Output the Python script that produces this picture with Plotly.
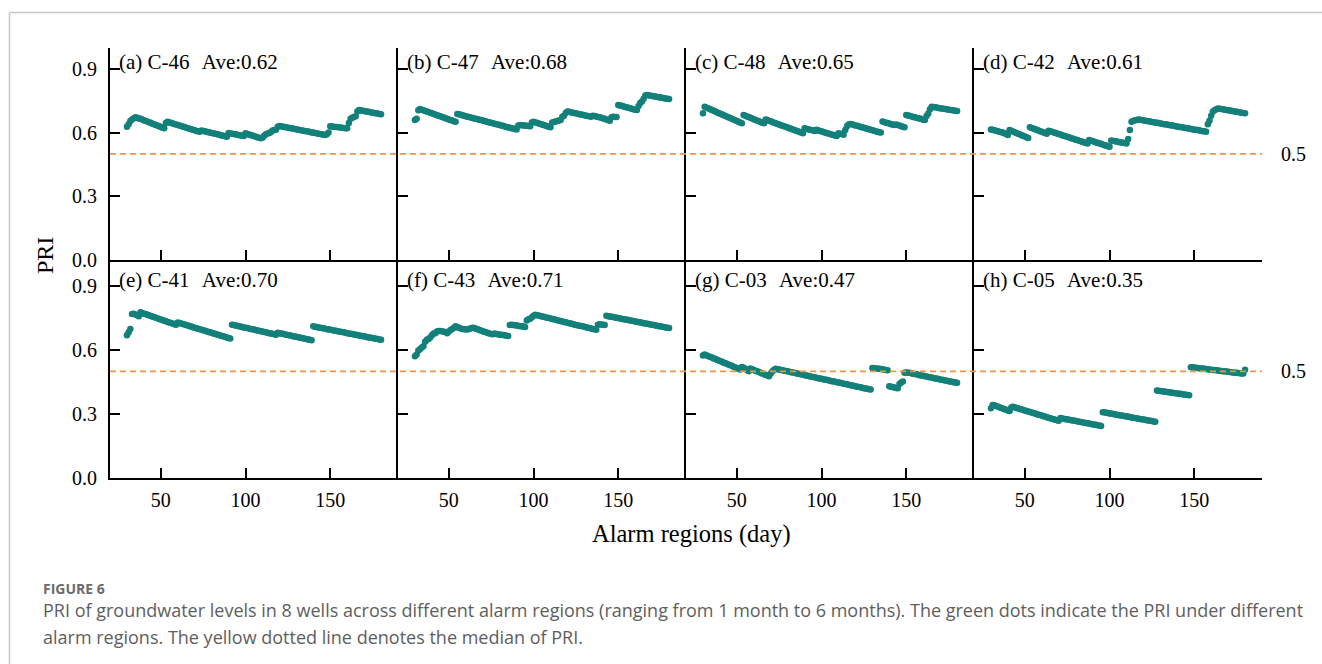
import plotly.graph_objects as go

# Alarm region length in days
days = list(range(30, 181))

# PRI per day (30..180) for each well
pri_c46 = [
    .628, .640, .655, .662, .668, .672, .670, .667, .665, .662,
    .658, .655, .652, .649, .646, .642, .639, .636, .633, .630,
    .626, .623, .620, .645, .651, .648, .646, .643, .641, .638,
    .636, .633, .631, .628, .626, .623, .621, .618, .616, .613,
    .611, .608, .606, .604, .610, .608, .606, .604, .602, .600,
    .598, .597, .595, .593, .591, .589, .587, .585, .583, .581,
    .598, .596, .595, .593, .592, .590, .589, .587, .586, .584,
    .597, .594, .591, .589, .586, .584, .581, .578, .576, .573,
    .576, .585, .592, .596, .598, .603, .610, .612, .614, .628,
    .631, .630, .628, .627, .625, .623, .622, .620, .619, .617,
    .616, .614, .612, .611, .609, .608, .606, .605, .603, .601,
    .600, .598, .597, .595, .594, .592, .590, .589, .592, .600,
    .630, .629, .628, .627, .626, .625, .624, .623, .622, .621,
    .620, .645, .665, .670, .674, .677, .700, .706, .705, .703,
    .702, .700, .699, .697, .696, .694, .693, .691, .690, .688,
    .687,
]
pri_c47 = [
    .660, .665, .705, .711, .708, .705, .702, .700, .697, .694,
    .691, .688, .685, .682, .680, .677, .674, .671, .668, .665,
    .662, .660, .657, .654, .651, .688, .686, .684, .682, .680,
    .677, .675, .673, .671, .669, .667, .665, .663, .661, .659,
    .657, .655, .652, .650, .648, .646, .644, .642, .640, .638,
    .636, .634, .632, .629, .627, .625, .623, .621, .619, .617,
    .615, .633, .636, .635, .634, .633, .632, .631, .630, .648,
    .651, .648, .646, .643, .641, .638, .636, .633, .630, .628,
    .625, .648, .650, .652, .655, .657, .659, .675, .680, .692,
    .699, .698, .696, .694, .692, .691, .689, .687, .685, .684,
    .682, .680, .678, .677, .675, .680, .678, .676, .674, .672,
    .670, .667, .665, .662, .659, .656, .672, .675, .674, .673,
    .730, .728, .726, .724, .721, .719, .717, .715, .712, .710,
    .708, .706, .725, .740, .746, .760, .775, .777, .776, .774,
    .773, .771, .770, .768, .767, .765, .764, .762, .761, .759,
    .758,
]
pri_c48 = [
    .691, .722, .718, .715, .711, .708, .704, .701, .697, .693,
    .690, .686, .683, .679, .676, .672, .669, .665, .662, .658,
    .655, .651, .648, .644, .683, .680, .676, .673, .670, .667,
    .663, .660, .657, .654, .650, .647, .644, .662, .659, .656,
    .653, .650, .647, .644, .641, .638, .635, .632, .630, .627,
    .624, .621, .618, .615, .612, .609, .606, .603, .600, .597,
    .620, .618, .616, .614, .612, .610, .608, .613, .611, .608,
    .606, .603, .601, .598, .596, .594, .591, .589, .586, .584,
    .597, .595, .593, .590, .612, .630, .638, .641, .639, .636,
    .634, .632, .630, .627, .625, .623, .620, .618, .616, .614,
    .611, .609, .607, .604, .602, .600, .652, .650, .647, .645,
    .643, .640, .638, .636, .638, .636, .633, .630, .628, .625,
    .683, .681, .679, .677, .674, .672, .670, .668, .666, .664,
    .661, .659, .678, .690, .710, .722, .721, .719, .718, .716,
    .715, .714, .712, .711, .710, .708, .707, .706, .704, .703,
    .702,
]
pri_c42 = [
    .615, .613, .611, .609, .607, .604, .602, .600, .597, .593,
    .589, .612, .609, .605, .602, .598, .595, .592, .588, .585,
    .582, .578, .575, .625, .622, .619, .616, .613, .610, .607,
    .604, .601, .598, .595, .609, .606, .604, .601, .599, .596,
    .593, .591, .588, .585, .583, .580, .578, .575, .572, .570,
    .567, .565, .562, .559, .557, .554, .552, .549, .565, .562,
    .560, .557, .554, .552, .549, .547, .544, .541, .539, .536,
    .534, .563, .561, .560, .558, .557, .555, .554, .552, .551,
    .549, .570, .612, .651, .655, .658, .660, .662, .661, .659,
    .658, .656, .655, .653, .652, .650, .649, .648, .646, .645,
    .643, .642, .640, .639, .638, .636, .635, .633, .632, .630,
    .629, .627, .626, .625, .623, .622, .620, .619, .617, .616,
    .614, .613, .612, .610, .609, .607, .606, .604, .640, .656,
    .680, .699, .705, .710, .714, .713, .711, .710, .708, .707,
    .705, .704, .703, .701, .700, .698, .697, .695, .694, .692,
    .691,
]
pri_c41 = [
    .670, .684, .700, .770, .772, .768, .764, .760, .778, .775,
    .772, .770, .767, .764, .761, .758, .756, .753, .750, .747,
    .744, .742, .739, .736, .733, .730, .728, .725, .722, .720,
    .730, .728, .726, .723, .721, .718, .716, .713, .711, .708,
    .706, .703, .701, .699, .696, .694, .691, .689, .686, .684,
    .682, .679, .677, .674, .672, .669, .667, .665, .662, .660,
    .657, .655, .720, .718, .716, .715, .713, .711, .709, .707,
    .706, .704, .702, .700, .698, .697, .695, .693, .691, .689,
    .688, .686, .684, .682, .680, .679, .677, .675, .673, .682,
    .680, .678, .677, .675, .673, .671, .670, .668, .666, .664,
    .663, .661, .659, .657, .656, .654, .652, .650, .649, .647,
    .712, .710, .709, .707, .706, .704, .703, .701, .699, .698,
    .696, .695, .693, .691, .690, .688, .687, .685, .684, .682,
    .680, .679, .677, .676, .674, .673, .671, .669, .668, .666,
    .665, .663, .661, .660, .658, .657, .655, .654, .652, .650,
    .649,
]
pri_c43 = [
    .571, .580, .598, .604, .612, .618, .640, .649, .652, .660,
    .670, .678, .680, .688, .690, .690, .689, .687, .685, .680,
    .688, .695, .700, .705, .712, .708, .705, .702, .700, .698,
    .698, .697, .700, .703, .705, .704, .701, .698, .695, .692,
    .689, .687, .684, .681, .679, .676, .675, .678, .676, .675,
    .673, .672, .671, .670, .668, .667, .718, .720, .719, .717,
    .716, .715, .713, .712, .711, .709, .740, .745, .748, .755,
    .762, .767, .765, .763, .761, .759, .757, .755, .753, .751,
    .749, .747, .745, .743, .741, .739, .737, .735, .733, .731,
    .729, .727, .725, .723, .721, .719, .717, .715, .714, .712,
    .710, .708, .706, .704, .702, .700, .698, .696, .720, .722,
    .721, .720, .719, .762, .760, .759, .757, .756, .754, .753,
    .751, .749, .748, .746, .745, .743, .742, .740, .738, .737,
    .735, .734, .732, .731, .729, .727, .726, .724, .723, .721,
    .720, .718, .716, .715, .713, .712, .710, .709, .707, .705,
    .704,
]
pri_c03 = [
    .575, .579, .576, .572, .569, .566, .562, .559, .556, .552,
    .549, .546, .542, .539, .536, .532, .529, .526, .522, .519,
    .516, .512, .509, .521, .517, .512, .506, .501, .513, .510,
    .507, .503, .500, .497, .493, .490, .487, .484, .480, .477,
    .490, .501, .508, .512, .510, .509, .507, .505, .503, .502,
    .500, .498, .496, .495, .493, .491, .489, .488, .486, .484,
    .482, .481, .479, .477, .475, .474, .472, .470, .468, .467,
    .465, .463, .461, .460, .458, .456, .454, .453, .451, .449,
    .447, .446, .444, .442, .440, .439, .437, .435, .433, .432,
    .430, .428, .426, .425, .423, .421, .419, .418, .416, .415,
    .516, .515, .514, .513, .512, .511, .510, .508, .507, .505,
    .430, .428, .426, .424, .422, .420, .440, .448, .452, .493,
    .495, .494, .493, .491, .489, .488, .486, .484, .482, .481,
    .479, .477, .476, .474, .472, .471, .469, .467, .466, .464,
    .462, .461, .459, .457, .456, .454, .452, .451, .449, .447,
    .446,
]
pri_c05 = [
    .326, .342, .340, .337, .334, .331, .328, .325, .322, .319,
    .316, .313, .330, .333, .331, .328, .326, .323, .321, .318,
    .316, .313, .311, .309, .306, .304, .301, .299, .296, .294,
    .292, .289, .287, .284, .282, .279, .277, .274, .272, .270,
    .267, .280, .278, .277, .275, .274, .272, .271, .269, .268,
    .266, .265, .263, .261, .260, .258, .257, .255, .254, .252,
    .251, .249, .248, .246, .245, .243, .308, .307, .305, .304,
    .302, .301, .299, .298, .296, .295, .293, .292, .291, .289,
    .288, .286, .285, .283, .282, .280, .279, .277, .276, .275,
    .273, .272, .270, .269, .267, .266, .264, .263, .410, .409,
    .408, .406, .405, .404, .403, .402, .401, .399, .398, .397,
    .396, .395, .394, .392, .391, .390, .389, .388, .520, .519,
    .518, .517, .516, .515, .514, .513, .512, .511, .510, .509,
    .508, .507, .506, .505, .504, .503, .502, .501, .500, .499,
    .498, .497, .496, .495, .494, .493, .492, .491, .490, .490,
    .508,
]

panel_tags = ["(a)", "(b)", "(c)", "(d)", "(e)", "(f)", "(g)", "(h)"]
well_names = ["C-46", "C-47", "C-48", "C-42", "C-41", "C-43", "C-03", "C-05"]
averages = ["0.62", "0.68", "0.65", "0.61", "0.70", "0.71", "0.47", "0.35"]
series = [pri_c46, pri_c47, pri_c48, pri_c42, pri_c41, pri_c43, pri_c03, pri_c05]

median_pri = 0.5
x_ticks = [50, 100, 150]
y_ticks = [0.0, 0.3, 0.6, 0.9]

for s in series:
    assert len(s) == len(days)

W, H = 1322, 664
SERIF = "Liberation Serif, Times New Roman, serif"
DOT = "#13807a"
ORANGE = "#f2953c"

col_px = [(110, 398), (398, 686), (686, 974), (974, 1262)]
row_px = [(47.7, 260.0), (261.0, 477.5)]
row_ymax = [1.0, 1.02]


def fx(px):
    return px / W


def fy(py):
    return 1 - py / H


fig = go.Figure()
layout = {}
annotations = []

for i, vals in enumerate(series):
    r, c = divmod(i, 4)
    n = i + 1
    xa = "x" if n == 1 else f"x{n}"
    ya = "y" if n == 1 else f"y{n}"
    fig.add_trace(go.Scatter(
        x=days, y=vals, xaxis=xa, yaxis=ya, mode="markers",
        marker=dict(color=DOT, size=6.5, line=dict(width=0)),
        showlegend=False, hoverinfo="x+y",
    ))
    x0, x1 = col_px[c]
    y0, y1 = row_px[r]
    layout["xaxis" if n == 1 else f"xaxis{n}"] = dict(
        domain=[fx(x0), fx(x1)], range=[20, 190], anchor=ya, automargin=False,
        showline=True, linecolor="black", linewidth=2,
        ticks="inside", ticklen=10, tickwidth=2, tickcolor="black",
        tickvals=x_ticks, showticklabels=(r == 1), ticklabelstandoff=3,
        tickfont=dict(family=SERIF, size=20, color="black"),
        showgrid=False, zeroline=False, fixedrange=True,
    )
    layout["yaxis" if n == 1 else f"yaxis{n}"] = dict(
        domain=[fy(y1), fy(y0)], range=[0, row_ymax[r]], anchor=xa, automargin=False,
        showline=True, linecolor="black", linewidth=2,
        ticks="inside", ticklen=10, tickwidth=2, tickcolor="black",
        tickvals=y_ticks, ticktext=[f"{v:.1f}" for v in y_ticks],
        showticklabels=(c == 0), ticklabelstandoff=7,
        tickfont=dict(family=SERIF, size=20, color="black"),
        showgrid=False, zeroline=False, fixedrange=True,
    )
    annotations.append(dict(
        text=f"{panel_tags[i]} {well_names[i]}\u00a0\u2004Ave:{averages[i]}",
        xref="paper", yref="paper", x=fx(x0 + 7), y=fy(62 if r == 0 else 280),
        xanchor="left", yanchor="middle", showarrow=False,
        font=dict(family=SERIF, size=21, color="black"),
    ))

shapes = []
for r in range(2):
    ya = "y" if r == 0 else "y5"
    shapes.append(dict(
        type="line", xref="paper", yref=ya, x0=fx(110), x1=fx(1262),
        y0=median_pri, y1=median_pri,
        line=dict(color=ORANGE, width=1.8, dash="6px,4px"),
    ))
    annotations.append(dict(
        text=f"{median_pri}", xref="paper", yref=ya, x=fx(1279), y=median_pri,
        xanchor="left", yanchor="middle", showarrow=False,
        font=dict(family=SERIF, size=20, color="black"),
    ))

# frame lines (top and left)
shapes.append(dict(type="line", xref="paper", yref="paper",
                   x0=fx(10), x1=1.0, y0=fy(12.5), y1=fy(12.5),
                   line=dict(color="#c8c8c8", width=1.5)))
shapes.append(dict(type="line", xref="paper", yref="paper",
                   x0=fx(9.5), x1=fx(9.5), y0=fy(12.5), y1=0.0,
                   line=dict(color="#c8c8c8", width=1.5)))

annotations.append(dict(
    text="PRI", xref="paper", yref="paper", x=fx(45), y=fy(256),
    textangle=-90, showarrow=False, xanchor="center", yanchor="middle",
    font=dict(family=SERIF, size=24, color="black"),
))
annotations.append(dict(
    text="Alarm regions (day)", xref="paper", yref="paper", x=fx(691), y=fy(534),
    showarrow=False, xanchor="center", yanchor="middle",
    font=dict(family=SERIF, size=24.5, color="black"),
))

CAP = "Open Sans, Noto Sans, sans-serif"
annotations.append(dict(
    text="<b>FIGURE 6</b>", xref="paper", yref="paper", x=fx(41), y=fy(588),
    showarrow=False, xanchor="left", yanchor="middle",
    font=dict(family=CAP, size=14, color="#6b6b6b"),
))
annotations.append(dict(
    text="PRI of groundwater levels in 8 wells across different alarm regions (ranging from 1 month to 6 months). The green dots indicate the PRI under different",
    xref="paper", yref="paper", x=fx(41), y=fy(610),
    showarrow=False, xanchor="left", yanchor="middle",
    font=dict(family=CAP, size=18, color="#5e5e5e"),
))
annotations.append(dict(
    text="alarm regions. The yellow dotted line denotes the median of PRI.",
    xref="paper", yref="paper", x=fx(41), y=fy(637),
    showarrow=False, xanchor="left", yanchor="middle",
    font=dict(family=CAP, size=18, color="#5e5e5e"),
))

fig.update_layout(
    width=W, height=H, autosize=False, margin=dict(l=0, r=0, t=0, b=0, pad=0),
    paper_bgcolor="white", plot_bgcolor="white",
    annotations=annotations, shapes=shapes, **layout,
)

fig.write_html("out.html", config={"displayModeBar": False, "responsive": False},
               default_width=W, default_height=H)
